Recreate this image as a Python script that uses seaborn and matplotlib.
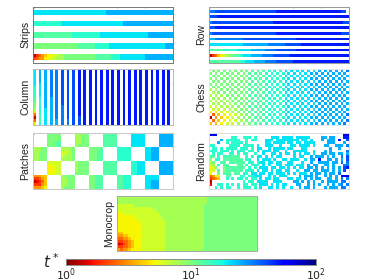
"""Spreading time t* maps for seven crop layouts."""

import matplotlib

matplotlib.use("Agg")
import matplotlib.pyplot as plt
import numpy as np
import seaborn as sns
from matplotlib.colors import LogNorm

# every string is one row of the 50x20 grid, top row first
# one character = log10(t*) in tenths, base 36 (a=10 ... k=20), "." = empty cell
W = ".......... .......... .......... .......... .........."

STRIPS = [
    W,
    "dddddddddd dddddddddd ddddddeeee eeeeeeeeee eeeeeeeeee",
    "dddddddddd dddddddddd ddddddeeee eeeeeeeeee eeeeeeeeee",
    W,
    W,
    "cccccccccc dddddddddd dddddddddd ddeeeeeeee eeeeeeeeee",
    "cccccccccc dddddddddd dddddddddd ddeeeeeeee eeeeeeeeee",
    W,
    W,
    "bbbbbbbbbb bbbbcccccc ccccdddddd dddddddddd deeeeeeeee",
    "bbbbbbbbbb bbbbcccccc ccccdddddd dddddddddd deeeeeeeee",
    W,
    W,
    "aaaaaaaaaa aaaaaabbbb bbcccccddd dddddddddd dddddddeee",
    "aaaaaaaaaa aaaaaabbbb bbcccccddd dddddddddd dddddddeee",
    W,
    W,
    "1345677889 9aaaaaaaaa aabbbbbbcc cddddddddd eeeeeeeeee",
    "3455778899 9aaaaaaaaa aabbbbbbcc cddddddddd eeeeeeeeee",
    W,
]

ROW = [
    W,
    "ffgggggggg gggggggggg gggghhhhhh hhhhhhhhhh hhhhhhhgg",
    W,
    "ggghhhhhhh hhhhhhhhhh hhhhhhhhhh hhhhhhhhhh hhhhhhhhhh",
    W,
    "fggggggggg gggggggggg ggghhhhhhh hhhhhhhhhh hhhhhhhhgg",
    W,
    "gghhhhhhhh hhhhhhhhhh hhhhhhhhhh hhhhhhhhhh hhhhhhhhhh",
    W,
    "fggggggggg gggggggggg gggghhhhhh hhhhhhhhhh hhhhhhhggg",
    W,
    "eeffffffff ffgggggggg gggggggggg ghhhhhhhhh hhhhhhhhhh",
    W,
    "dddddddddd ddeeeeeeee effffffggg ggghhhhhhh hhhhhhhhhh",
    W,
    "bbbbbccccc dddddeeeee ffffgggggg ghhhhhhhhh hhhhhhhhhh",
    W,
    "1346789aab bcdddeeeef fffggggggh hhhhhhhhhh hhhhhhhhhh",
    W,
    "bbbbbbbbbb bccdddeeee ffffgggggg hhhhhhhhhh hhhhhhhhhh",
]

COL_FAR = "h.h.h.h.h. h.h.h.h.h. h.h.h.h.h."
COLUMN = [
    "d.e.e.f.f. g.g.g.h.h. " + COL_FAR,
    "d.e.e.f.f. g.g.g.h.h. " + COL_FAR,
    "d.e.e.f.f. g.g.g.h.h. " + COL_FAR,
    "d.e.e.f.f. g.g.g.h.h. " + COL_FAR,
    "d.e.e.f.f. g.g.g.h.h. " + COL_FAR,
    "d.d.e.f.f. g.g.g.h.h. " + COL_FAR,
    "c.d.e.f.f. g.g.g.h.h. " + COL_FAR,
    "c.d.e.f.f. g.g.g.h.h. " + COL_FAR,
    "c.d.e.f.f. g.g.g.h.h. " + COL_FAR,
    "c.d.e.f.f. g.g.g.h.h. " + COL_FAR,
    "b.c.e.e.f. g.g.g.h.h. " + COL_FAR,
    "b.c.e.e.f. g.g.g.h.h. " + COL_FAR,
    "a.c.e.e.f. g.g.g.h.h. " + COL_FAR,
    "a.c.e.e.f. f.g.g.h.h. " + COL_FAR,
    "9.c.d.e.f. f.g.g.h.h. " + COL_FAR,
    "7.c.d.e.f. f.g.g.h.h. " + COL_FAR,
    "4.c.d.e.f. f.g.g.h.h. " + COL_FAR,
    "1.b.d.e.f. f.g.g.g.h. " + COL_FAR,
    "4.b.d.e.e. f.f.g.g.h. " + COL_FAR,
    "7.c.d.e.e. f.f.g.g.h. " + COL_FAR,
]

CHESS = [
    ".a.a.a.a.a .a.a.b.b.b .c.c.c.d.d .d.d.d.d.e .e.e.e.e.f",
    "a.a.a.a.a. a.a.b.b.b. c.c.c.c.d. d.d.d.e.e. e.e.e.e.e.",
    ".a.a.a.a.a .a.a.b.b.b .c.c.c.d.d .d.d.d.d.e .e.e.e.e.e",
    "a.a.a.a.a. a.a.b.b.b. c.c.c.c.d. d.d.d.e.e. e.e.e.e.e.",
    ".a.a.a.a.a .a.a.b.b.b .c.c.c.d.d .d.d.d.d.e .e.e.e.e.e",
    "a.a.a.a.a. a.a.b.b.b. c.c.c.c.d. d.d.d.e.e. e.e.e.e.e.",
    ".a.a.a.a.a .a.a.b.b.b .c.c.c.d.d .d.d.d.d.e .e.e.e.e.e",
    "9.9.a.a.a. a.a.b.b.b. c.c.c.c.d. d.d.d.e.e. e.e.e.e.e.",
    ".9.a.a.a.a .a.a.b.b.b .c.c.c.d.d .d.d.d.d.e .e.e.e.e.e",
    "9.9.9.a.a. a.a.b.b.b. c.c.c.c.d. d.d.d.e.e. e.e.e.e.e.",
    ".9.9.9.a.a .a.a.b.b.b .c.c.c.d.d .d.d.d.d.e .e.e.e.e.e",
    "9.9.9.9.a. a.a.b.b.b. c.c.c.c.d. d.d.d.e.e. e.e.e.e.e.",
    ".9.9.9.9.a .a.a.b.b.b .c.c.c.d.d .d.d.d.d.e .e.e.e.e.e",
    "8.8.9.9.9. a.a.b.b.b. c.c.c.c.d. d.d.d.e.e. e.e.e.e.e.",
    ".8.8.8.9.9 .a.a.b.b.b .c.c.c.d.d .d.d.d.d.e .e.e.e.e.e",
    "7.7.8.8.9. a.a.b.b.b. c.c.c.c.d. d.d.d.e.e. e.e.e.e.e.",
    ".4.6.7.8.8 .9.a.b.b.b .c.c.c.d.d .d.d.d.d.e .e.e.e.e.f",
    "1.5.6.7.8. 9.a.a.b.b. c.c.c.c.d. d.d.d.e.e. e.e.e.e.e.",
    ".4.6.7.8.8 .9.a.b.b.b .c.c.c.d.d .d.d.d.d.e .e.e.e.e.f",
    "6.6.7.8.8. 9.a.a.b.b. c.c.c.c.d. d.d.d.e.e. e.e.e.e.f.",
]

PATCHES = [
    ".....aaaaa .....99aaa .....bbbbb .....ddddd .....eeeee",
    ".....aaaaa .....99aaa .....bbbbb .....ddddd .....eeeee",
    ".....aaaaa .....99aaa .....bbbbb .....ddddd .....eeeee",
    ".....aaabb .....99aaa .....bbbbb .....ddddd .....eeeee",
    ".....aaabb .....9aaaa .....bbbbb .....ddddd .....eeeee",
    "999aa.....9999a.....aaaab.....ccccc.....ddeee.....",
    "999aa.....9899a.....aaabb.....ccccc.....ddeee.....",
    "99aaa.....8899a.....aaabb.....ccccc.....ddeee.....",
    "99aaa.....8999a.....aaabb.....ccccc.....ddeee.....",
    "99aaa.....9999a.....aaabb.....ccccc.....ddeee.....",
    ".....88888 .....9aaaa .....bbbbb .....ccddd .....eeeee",
    ".....77888 .....9aaaa .....bbbbb .....ccddd .....eeeee",
    ".....77788 .....9aaaa .....bbbbb .....ccddd .....eeeee",
    ".....77788 .....9aaaa .....bbbbb .....ccddd .....eeeee",
    ".....77888 .....aaaaa .....bbbbb .....ccddd .....eeeee",
    "55566.....9aaaa.....aabbb.....bbccc.....ddddd.....",
    "33456.....99aaa.....aabbb.....bbccc.....ddddd.....",
    "12346.....99aaa.....aabbb.....bbccc.....ddeee.....",
    "33356.....99aaa.....aabbb.....bbccc.....ddeee.....",
    "55567.....9aaaa.....aabbb.....bbccc.....ddeee.....",
]

RANDOM = [
    "iii....... .......... .......... .......... ........ii",
    "........cc ..ccc.c... ..ddd.dddd .ddddd.... ee.ee...hh",
    "....e.cccc c..c.cc... ddd.dddddd dd.dd.d... e.eee.h..g",
    "...e..c.cc cc.c...... dd.dddd.dd .dd.dddd.. ..eee...e.",
    "cc.....ccc c.cccc.d.. ddd..d...d d.dddd.d.. .ee..eee.f",
    ".cc.c.cccc .ccc.c.dd. .d.dddd.dd ...dd..... ...e..e...",
    "ccc.ccc.c. ccc.cc.d.d dd.dd..d.. ddddd..d.. .e.e.....f",
    ".c.cc..cc. c.cc..c..d ..dd.d.dd. d.d.dd.d.. ee.ee.ee.e",
    "bb.c.cbbbb b..c.c.dd. d.d.dd.... d.dd..e.ee e.e.e..f.g",
    "a.cc.bbbbb bb.cc..d.d dd.d..dd.d dd..d.ee.h ..ee.e.e.g",
    "9a..bb.bbb bbb.cc.cdd .dd.dd..dd ...d..e..e eee.ee.f.f",
    "89.c.bb...b b.c.ccc.d. d..dd.ddd .ddd.e.ee. .ee.e...ff",
    "78a..abbbb bbb.c.c.dd d.dd.dd.d. d.dd.ee.e. e.e.e.e.gh",
    "78.b.abbbb bb.ccc.d.d d.d.dd.dd. .d..ee.ee. eee.e.e.g.",
    "7..a.bbb.b b.cc.dd.dd .dd.ddd.d. d.ddd.e.ee .e.ee.f...",
    "4578..bb.. .cc.ccddd. .d.d.ddd.. ..e.eee.e. .e.e.e.iii",
    "3456..c.c. cc.c.cc.d. dd.dd...dd .dd.e.e.ee ..ee.e.f.f",
    "1......... ..c.cc.ddd d..ddd.... ee.e.e.e.. e.eeee.ff.",
    "2..cc.c.c. c.cc.cc.dd d.d.d.dd.. .ee..e.e.e ..e.e.ef.f",
    "..c.c.cc.. c.ccc.c.d. .dd.d.d..d ..e.ee.e.. .e.eee.ff.",
]

MONOCROP = [
    "9999999999 9999999999 9999999999 99aaaaaaaa aaaaaaaaaa",
    "9999999999 9999999999 9999999999 99aaaaaaaa aaaaaaaaaa",
    "9999999999 9999999999 9999999999 99aaaaaaaa aaaaaaaaaa",
    "8888889999 9999999999 9999999999 9aaaaaaaaa aaaaaaaaaa",
    "8888888888 8899999999 9999999999 9aaaaaaaaa aaaaaaaaaa",
    "8888888888 8888999999 9999999999 9aaaaaaaaa aaaaaaaaaa",
    "7788888888 8888899999 9999999999 9aaaaaaaaa aaaaaaaaaa",
    "7777778888 8888889999 9999999999 9aaaaaaaaa aaaaaaaaaa",
    "7777777888 8888889999 9999999999 9aaaaaaaaa aaaaaaaaaa",
    "7777777788 8888888999 9999999999 9aaaaaaaaa aaaaaaaaaa",
    "7777777778 8888888999 9999999999 9aaaaaaaaa aaaaaaaaaa",
    "7777777778 8888888999 9999999999 9aaaaaaaaa aaaaaaaaaa",
    "7777777778 8888888999 9999999999 9aaaaaaaaa aaaaaaaaaa",
    "6677777778 8888888999 9999999999 9aaaaaaaaa aaaaaaaaaa",
    "5566777778 8888888999 9999999999 9aaaaaaaaa aaaaaaaaaa",
    "4455677778 8888888999 9999999999 9aaaaaaaaa aaaaaaaaaa",
    "3344567778 8888888999 9999999999 9aaaaaaaaa aaaaaaaaaa",
    "1234567778 8888888999 9999999999 9aaaaaaaaa aaaaaaaaaa",
    "3344567778 8888888999 9999999999 9aaaaaaaaa aaaaaaaaaa",
    "5455677778 8888888999 9999999999 9aaaaaaaaa aaaaaaaaaa",
]

# name: left, top, right, bottom in pixels
PANELS = {
    "Strips": (STRIPS, (33, 7, 173, 62.5)),
    "Row": (ROW, (209, 7, 349, 62.5)),
    "Column": (COLUMN, (33, 69, 173, 124.5)),
    "Chess": (CHESS, (209, 69, 349, 124.5)),
    "Patches": (PATCHES, (33, 133, 173, 188.5)),
    "Random": (RANDOM, (209, 133, 349, 188.5)),
    "Monocrop": (MONOCROP, (117, 195.5, 257, 251)),
}
SPINE_COLOR = {
    "Strips": "#777777",
    "Row": "#999999",
    "Column": "#bbbbbb",
    "Chess": "#e8e8e8",
    "Patches": "#c8c8c8",
    "Random": "#dddddd",
    "Monocrop": "#aaaaaa",
}
WIDTH, HEIGHT = 374, 280


def decode(rows):
    """Turn the text rows into a t* array, empty cells are NaN."""
    out = []
    for row in rows:
        row = row.replace(" ", "").ljust(50, ".")[:50]
        out.append([np.nan if ch == "." else 10 ** (int(ch, 36) / 10) for ch in row])
    return np.array(out)


def pixel_axes(fig, left, top, right, bottom):
    return fig.add_axes([left / WIDTH, 1 - bottom / HEIGHT, (right - left) / WIDTH, (bottom - top) / HEIGHT])


sns.set_style("white")
plt.rcParams["font.family"] = ["Liberation Sans", "DejaVu Sans"]
plt.rcParams["mathtext.fontset"] = "dejavusans"

fig = plt.figure(figsize=(WIDTH / 100, HEIGHT / 100), dpi=100)
cax = pixel_axes(fig, 66, 258.5, 315.5, 265)
norm = LogNorm(vmin=1, vmax=100)

for name, (rows, box) in PANELS.items():
    ax = pixel_axes(fig, *box)
    draw_cbar = name == "Monocrop"
    sns.heatmap(
        decode(rows),
        ax=ax,
        cmap="jet_r",
        norm=norm,
        cbar=draw_cbar,
        cbar_ax=cax if draw_cbar else None,
        cbar_kws={"orientation": "horizontal"} if draw_cbar else None,
        xticklabels=False,
        yticklabels=False,
    )
    ax.set_ylabel(name, fontsize=7.6, color="#222222", labelpad=2)
    ax.set_xticks([0.5, 30, 40])
    ax.set_yticks([5])
    ax.tick_params(
        direction="in", length=1, width=0.5, color="#777777", top=True, right=True,
        labelbottom=False, labelleft=False,
    )
    for spine in ax.spines.values():
        spine.set_visible(True)
        spine.set_color(SPINE_COLOR[name])
        spine.set_linewidth(0.7)

cax.set_xscale("log")
cax.set_xticks([1, 10, 100])
cax.set_xticklabels(["$10^{0}$", "$10^{1}$", "$10^{2}$"])
cax.minorticks_off()
cax.tick_params(length=0, labelsize=7.8, pad=1, labelcolor="#222222")
for spine in cax.spines.values():
    spine.set_visible(True)
    spine.set_color("#888888")
    spine.set_linewidth(0.5)
fig.text(51 / WIDTH, 1 - 262 / HEIGHT, "$t^*$", fontsize=11, color="#222222", ha="center", va="center")

fig.savefig("out.png", dpi=100)
